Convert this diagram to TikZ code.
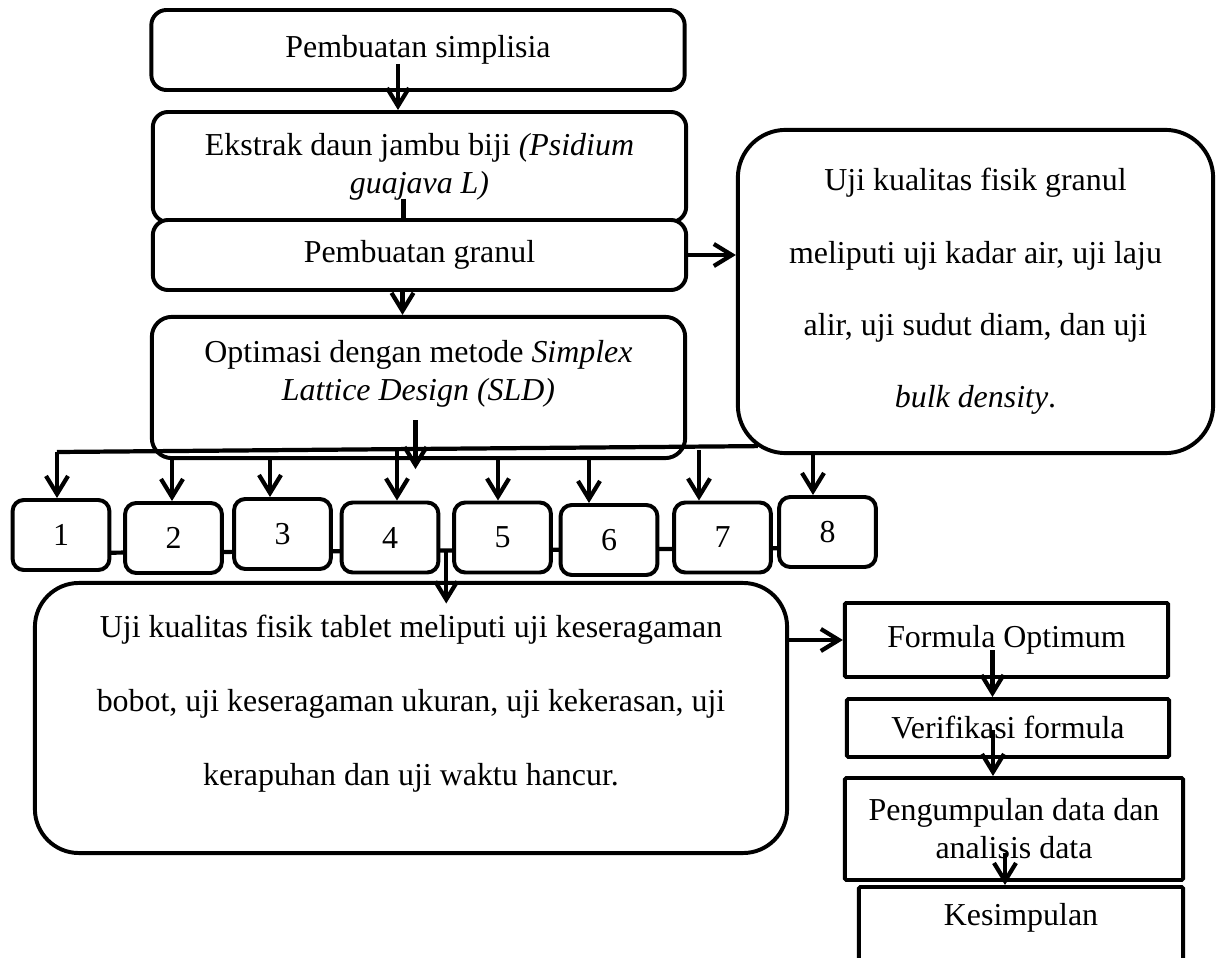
\documentclass[tikz,border=0pt]{standalone}
\usepackage{fontspec}
\setmainfont{Liberation Serif}
\usetikzlibrary{arrows.meta,calc,backgrounds}

\tikzset{
  kotak/.style={draw, line width=2.8pt, fill=white, rounded corners=0.38cm, align=center, inner sep=0pt},
  kotakbulat/.style={kotak, rounded corners=1.2cm},
  kotaksiku/.style={kotak, rounded corners=1pt},
  nomor/.style={kotak, rounded corners=0.28cm, minimum width=2.42cm, minimum height=1.75cm},
  teks/.style={align=center, inner sep=0pt},
  renggang/.style={font=\fontsize{22.7}{51.5}\selectfont},
  panah/.style={line width=3pt, -{Straight Barb[length=0.45cm,width=0.55cm]}},
  garis/.style={line width=3pt},
}

\begin{document}
\begin{tikzpicture}[x=0.025cm, y=-0.025cm, font=\fontsize{22.7}{27}\selectfont]
    \useasboundingbox (0,0) rectangle (1218,958);
    % Kolom kiri: tahapan pembuatan
    \node[kotak, minimum width=13.33cm, minimum height=2cm] (simplisia) at (418,50) {Pembuatan simplisia};
    \node[kotak, minimum width=13.33cm, minimum height=2.75cm] (ekstrak) at (419.5,167)
        {Ekstrak daun jambu biji \textit{(Psidium}\\\textit{guajava L)}};
    \node[kotak, minimum width=13.33cm, minimum height=1.75cm] (granul) at (419.5,255) {Pembuatan granul};
    \node[kotak, rounded corners=0.5cm, minimum width=13.33cm, minimum height=3.53cm] (optim) at (418.5,387.5) {};
    \node[teks] (optimteks) at ($(optim.center)+(0,-14)$)
        {Optimasi dengan metode \textit{Simplex}\\\textit{Lattice Design (SLD)}};
    % Kotak uji granul di kanan
    \node[kotakbulat, renggang, minimum width=11.88cm, minimum height=8.08cm] (ugranul) at (975.5,291.5)
        {Uji kualitas fisik granul\\meliputi uji kadar air, uji laju\\alir, uji sudut diam, dan uji\\\textit{bulk density}.};
    % Delapan formula
    \foreach \i/\cx/\cy in {1/61/535, 2/173.5/538, 3/282.5/534, 4/390/537.5,
                            5/502.5/537.5, 6/609/540, 7/722.5/537.5, 8/827.5/532}
        \node[nomor] (b\i) at (\cx,\cy) {\i};
    % Uji tablet
    \node[kotakbulat, rounded corners=1.1cm, minimum width=18.8cm, minimum height=6.75cm] (tablet) at (411,718) {};
    \node[teks, font=\fontsize{22.7}{52.6}\selectfont] (tabletteks) at ($(tablet.center)+(0,-14)$)
        {Uji kualitas fisik tablet meliputi uji keseragaman\\bobot, uji keseragaman ukuran, uji kekerasan, uji\\kerapuhan dan uji waktu hancur.};
    % Kolom kanan bawah
    \node[kotaksiku, minimum width=8.08cm, minimum height=1.85cm] (formula) at (1006.5,640) {Formula Optimum};
    \node[kotaksiku, minimum width=8.05cm, minimum height=1.45cm] (verif) at (1008,728) {Verifikasi formula};
    \node[kotaksiku, minimum width=8.45cm, minimum height=2.55cm] (kumpul) at (1014,829)
        {Pengumpulan data dan\\analisis data};
    \node[kotaksiku, minimum width=8.1cm, minimum height=2.45cm] (simpul) at (1021,936) {};
    \node[teks] (simpulteks) at ($(simpul.center)+(0,-18)$) {Kesimpulan};

    % Panah kolom kiri
    \draw[panah] ($(simplisia.south)+(-20,-28)$) coordinate (s) -- (s |- ekstrak.north);
    \draw[garis] ($(ekstrak.south)+(-16,-25)$) coordinate (e) -- (e |- granul.north);
    \draw[panah] ($(granul.south)+(-17,0)$) coordinate (g) -- (g |- optim.north);
    \draw[panah] (granul.east) -- (granul.east -| ugranul.west);
    \draw[panah] ($(optim.south)+(-3,-40)$) -- ++(0,49);
    % Garis pembagi ke formula 1-8
    \coordinate (kiri) at (57,452);
    \draw[garis] (kiri) -- ($(ugranul.south west)+(22,-9)$);
    \foreach \i/\ax/\ay in {1/57/452, 2/172/458, 3/270/458, 4/397/450,
                            5/498/458, 6/589/458, 7/699/450, 8/813/455} {
        \coordinate (p\i) at (\ax,\ay);
        \draw[panah] (p\i) -- (p\i |- b\i.north);
    }
    % Garis penghubung formula
    \begin{scope}[on background layer]
        \draw[garis] ($(b1.center)+(0,18)$) -- ($(b8.center)+(0,16)$);
    \end{scope}
    \draw[panah] ($(b4.east)!0.5!(b5.west)+(0,13)$) coordinate (cabang) -- ++(0,53);
    % Panah kolom kanan
    \draw[panah] (formula.west -| tablet.east) -- (formula.west);
    \draw[panah] ($(formula.center)+(-14,10)$) coordinate (f) -- (f |- verif.north);
    \draw[panah] ($(verif.center)+(-15,2)$) coordinate (v) -- (v |- kumpul.north);
    \draw[panah] ($(kumpul.center)+(-9,24)$) coordinate (k) -- (k |- simpul.north);
\end{tikzpicture}
\end{document}
